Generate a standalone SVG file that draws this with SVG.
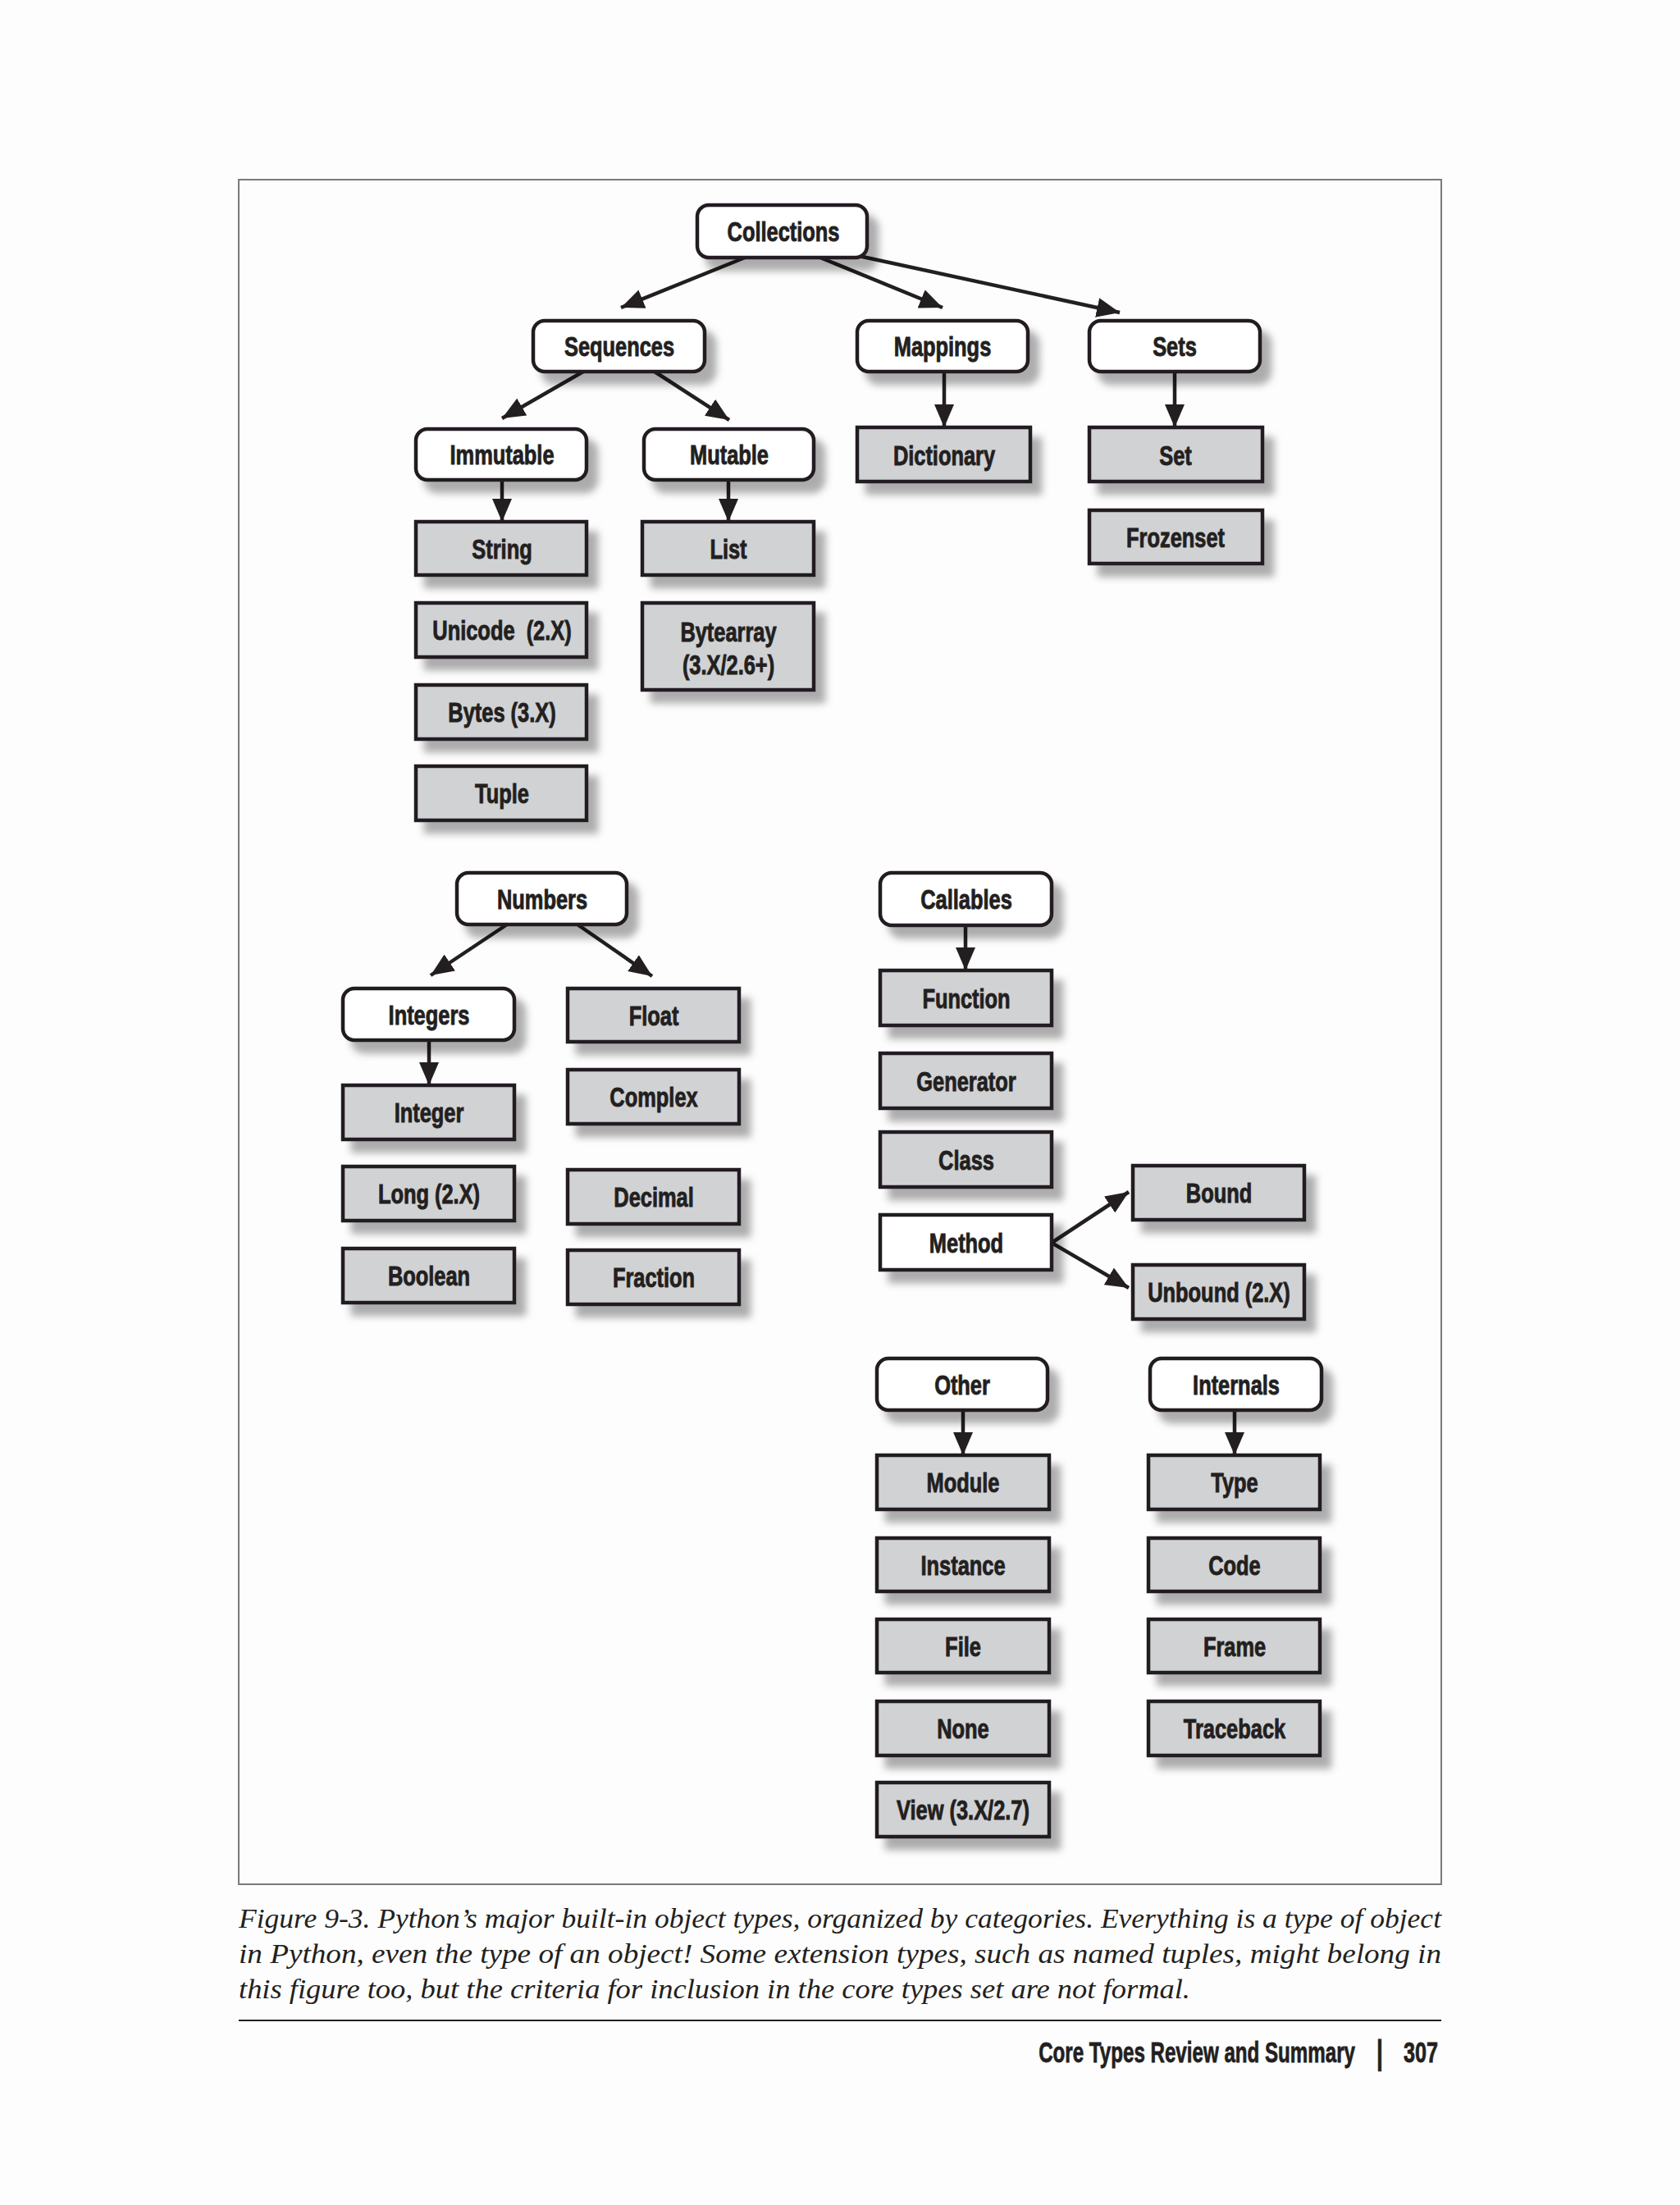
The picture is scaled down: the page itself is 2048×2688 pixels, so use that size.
<svg xmlns="http://www.w3.org/2000/svg" width="2048" height="2688" viewBox="0 0 2048 2688">
<style>
.cat{fill:#fff;stroke:#231f20;stroke-width:4.5}
.box{fill:#d1d2d4;stroke:#231f20;stroke-width:4.5}
.wbox{fill:#fff;stroke:#231f20;stroke-width:4.5}
.lbl{font-family:"Liberation Sans",Arial,sans-serif;font-weight:bold;font-size:33px;fill:#231f20;stroke:#231f20;stroke-width:0.9;text-anchor:middle;white-space:pre}
.con{fill:none;stroke:#231f20;stroke-width:4.5;stroke-linecap:butt}
.cap{font-family:"Liberation Serif","Times New Roman",serif;font-style:italic;font-size:33px;fill:#231f20}
.foot{font-family:"Liberation Sans",Arial,sans-serif;font-weight:bold;font-size:35px;fill:#231f20;stroke:#231f20;stroke-width:0.8}
</style>
<defs>
<filter id="sh" x="-10%" y="-20%" width="130%" height="160%">
<feGaussianBlur in="SourceAlpha" stdDeviation="5"/>
<feOffset dx="12" dy="14" result="b"/>
<feFlood flood-color="#000" flood-opacity="0.32"/>
<feComposite in2="b" operator="in"/>
<feMerge><feMergeNode/><feMergeNode in="SourceGraphic"/></feMerge>
</filter>
<marker id="ah" markerUnits="userSpaceOnUse" markerWidth="30" markerHeight="24" refX="28" refY="12" orient="auto">
<path d="M0,0 L28,12 L0,24 Z" fill="#231f20"/>
</marker>
</defs>
<rect width="2048" height="2688" fill="#fdfdfd"/>
<rect x="291" y="219" width="1466" height="2078" fill="none" stroke="#7a7a7a" stroke-width="2"/>

<g id="connectors">
<path class="con" d="M908,314 L757,375" marker-end="url(#ah)"/>
<path class="con" d="M1000,314 L1149,375" marker-end="url(#ah)"/>
<path class="con" d="M1047,312 L1365,381" marker-end="url(#ah)"/>
<path class="con" d="M711,453 L612,510" marker-end="url(#ah)"/>
<path class="con" d="M798,453 L889,512" marker-end="url(#ah)"/>
<path class="con" d="M1151,453 L1151,521" marker-end="url(#ah)"/>
<path class="con" d="M1432,453 L1432,521" marker-end="url(#ah)"/>
<path class="con" d="M612,585 L612,636" marker-end="url(#ah)"/>
<path class="con" d="M888,585 L888,636" marker-end="url(#ah)"/>
<path class="con" d="M618,1127 L525,1189" marker-end="url(#ah)"/>
<path class="con" d="M704,1127 L795,1190" marker-end="url(#ah)"/>
<path class="con" d="M523,1268 L523,1323" marker-end="url(#ah)"/>
<path class="con" d="M1177,1128 L1177,1183" marker-end="url(#ah)"/>
<path class="con" d="M1282,1515 L1376,1453" marker-end="url(#ah)"/>
<path class="con" d="M1282,1515 L1376,1570" marker-end="url(#ah)"/>
<path class="con" d="M1174,1719 L1174,1774" marker-end="url(#ah)"/>
<path class="con" d="M1505,1719 L1505,1774" marker-end="url(#ah)"/>
</g>

<g id="collections"><rect class="cat" filter="url(#sh)" x="850" y="250" width="207" height="64" rx="14"/><text class="lbl" transform="translate(955,294) scale(0.77,1)">Collections</text></g>
<g id="sequences"><rect class="cat" filter="url(#sh)" x="650" y="391" width="209" height="62" rx="14"/><text class="lbl" transform="translate(755,434) scale(0.77,1)">Sequences</text></g>
<g id="mappings"><rect class="cat" filter="url(#sh)" x="1045" y="391" width="208" height="62" rx="14"/><text class="lbl" transform="translate(1149,434) scale(0.77,1)">Mappings</text></g>
<g id="sets"><rect class="cat" filter="url(#sh)" x="1328" y="391" width="208" height="62" rx="14"/><text class="lbl" transform="translate(1432,434) scale(0.77,1)">Sets</text></g>
<g id="immutable"><rect class="cat" filter="url(#sh)" x="507" y="523" width="208" height="62" rx="14"/><text class="lbl" transform="translate(612,566) scale(0.77,1)">Immutable</text></g>
<g id="mutable"><rect class="cat" filter="url(#sh)" x="785" y="523" width="207" height="62" rx="14"/><text class="lbl" transform="translate(889,566) scale(0.77,1)">Mutable</text></g>
<g id="dictionary"><rect class="box" filter="url(#sh)" x="1045" y="521" width="211" height="66"/><text class="lbl" transform="translate(1151,567) scale(0.77,1)">Dictionary</text></g>
<g id="set"><rect class="box" filter="url(#sh)" x="1328" y="521" width="211" height="66"/><text class="lbl" transform="translate(1433,567) scale(0.77,1)">Set</text></g>
<g id="frozenset"><rect class="box" filter="url(#sh)" x="1328" y="622" width="211" height="65"/><text class="lbl" transform="translate(1433,667) scale(0.77,1)">Frozenset</text></g>
<g id="string"><rect class="box" filter="url(#sh)" x="507" y="636" width="208" height="65"/><text class="lbl" transform="translate(612,681) scale(0.77,1)">String</text></g>
<g id="list"><rect class="box" filter="url(#sh)" x="783" y="636" width="209" height="65"/><text class="lbl" transform="translate(888,681) scale(0.77,1)">List</text></g>
<g id="unicode"><rect class="box" filter="url(#sh)" x="507" y="735" width="208" height="66"/><text class="lbl" transform="translate(612,780) scale(0.77,1)">Unicode  (2.X)</text></g>
<g id="bytearray"><rect class="box" filter="url(#sh)" x="783" y="735" width="209" height="106"/><text class="lbl" transform="translate(888,782) scale(0.77,1)">Bytearray</text><text class="lbl" transform="translate(888,822) scale(0.77,1)">(3.X/2.6+)</text></g>
<g id="bytes"><rect class="box" filter="url(#sh)" x="507" y="835" width="208" height="66"/><text class="lbl" transform="translate(612,880) scale(0.77,1)">Bytes (3.X)</text></g>
<g id="tuple"><rect class="box" filter="url(#sh)" x="507" y="934" width="208" height="66"/><text class="lbl" transform="translate(612,979) scale(0.77,1)">Tuple</text></g>

<g id="numbers"><rect class="cat" filter="url(#sh)" x="557" y="1064" width="207" height="63" rx="14"/><text class="lbl" transform="translate(661,1108) scale(0.77,1)">Numbers</text></g>
<g id="integers"><rect class="cat" filter="url(#sh)" x="418" y="1205" width="209" height="63" rx="14"/><text class="lbl" transform="translate(523,1249) scale(0.77,1)">Integers</text></g>
<g id="float"><rect class="box" filter="url(#sh)" x="692" y="1205" width="209" height="65"/><text class="lbl" transform="translate(797,1250) scale(0.77,1)">Float</text></g>
<g id="integer"><rect class="box" filter="url(#sh)" x="418" y="1323" width="209" height="66"/><text class="lbl" transform="translate(523,1368) scale(0.77,1)">Integer</text></g>
<g id="complex"><rect class="box" filter="url(#sh)" x="692" y="1304" width="209" height="66"/><text class="lbl" transform="translate(797,1349) scale(0.77,1)">Complex</text></g>
<g id="long"><rect class="box" filter="url(#sh)" x="418" y="1422" width="209" height="66"/><text class="lbl" transform="translate(523,1467) scale(0.77,1)">Long (2.X)</text></g>
<g id="decimal"><rect class="box" filter="url(#sh)" x="692" y="1426" width="209" height="66"/><text class="lbl" transform="translate(797,1471) scale(0.77,1)">Decimal</text></g>
<g id="boolean"><rect class="box" filter="url(#sh)" x="418" y="1522" width="209" height="66"/><text class="lbl" transform="translate(523,1567) scale(0.77,1)">Boolean</text></g>
<g id="fraction"><rect class="box" filter="url(#sh)" x="692" y="1524" width="209" height="66"/><text class="lbl" transform="translate(797,1569) scale(0.77,1)">Fraction</text></g>

<g id="callables"><rect class="cat" filter="url(#sh)" x="1073" y="1064" width="209" height="64" rx="14"/><text class="lbl" transform="translate(1178,1108) scale(0.77,1)">Callables</text></g>
<g id="function"><rect class="box" filter="url(#sh)" x="1073" y="1183" width="209" height="67"/><text class="lbl" transform="translate(1178,1229) scale(0.77,1)">Function</text></g>
<g id="generator"><rect class="box" filter="url(#sh)" x="1073" y="1284" width="209" height="67"/><text class="lbl" transform="translate(1178,1330) scale(0.77,1)">Generator</text></g>
<g id="class"><rect class="box" filter="url(#sh)" x="1073" y="1380" width="209" height="67"/><text class="lbl" transform="translate(1178,1426) scale(0.77,1)">Class</text></g>
<g id="method"><rect class="wbox" filter="url(#sh)" x="1073" y="1481" width="209" height="67"/><text class="lbl" transform="translate(1178,1527) scale(0.77,1)">Method</text></g>
<g id="bound"><rect class="box" filter="url(#sh)" x="1381" y="1421" width="209" height="66"/><text class="lbl" transform="translate(1486,1466) scale(0.77,1)">Bound</text></g>
<g id="unbound"><rect class="box" filter="url(#sh)" x="1381" y="1542" width="209" height="66"/><text class="lbl" transform="translate(1486,1587) scale(0.77,1)">Unbound (2.X)</text></g>

<g id="other"><rect class="cat" filter="url(#sh)" x="1069" y="1656" width="208" height="63" rx="14"/><text class="lbl" transform="translate(1173,1700) scale(0.77,1)">Other</text></g>
<g id="internals"><rect class="cat" filter="url(#sh)" x="1402" y="1656" width="209" height="63" rx="14"/><text class="lbl" transform="translate(1507,1700) scale(0.77,1)">Internals</text></g>
<g id="module"><rect class="box" filter="url(#sh)" x="1069" y="1774" width="210" height="66"/><text class="lbl" transform="translate(1174,1819) scale(0.77,1)">Module</text></g>
<g id="type"><rect class="box" filter="url(#sh)" x="1400" y="1774" width="209" height="66"/><text class="lbl" transform="translate(1505,1819) scale(0.77,1)">Type</text></g>
<g id="instance"><rect class="box" filter="url(#sh)" x="1069" y="1875" width="210" height="65"/><text class="lbl" transform="translate(1174,1920) scale(0.77,1)">Instance</text></g>
<g id="code"><rect class="box" filter="url(#sh)" x="1400" y="1875" width="209" height="65"/><text class="lbl" transform="translate(1505,1920) scale(0.77,1)">Code</text></g>
<g id="file"><rect class="box" filter="url(#sh)" x="1069" y="1974" width="210" height="65"/><text class="lbl" transform="translate(1174,2019) scale(0.77,1)">File</text></g>
<g id="frame"><rect class="box" filter="url(#sh)" x="1400" y="1974" width="209" height="65"/><text class="lbl" transform="translate(1505,2019) scale(0.77,1)">Frame</text></g>
<g id="none"><rect class="box" filter="url(#sh)" x="1069" y="2074" width="210" height="66"/><text class="lbl" transform="translate(1174,2119) scale(0.77,1)">None</text></g>
<g id="traceback"><rect class="box" filter="url(#sh)" x="1400" y="2074" width="209" height="66"/><text class="lbl" transform="translate(1505,2119) scale(0.77,1)">Traceback</text></g>
<g id="view"><rect class="box" filter="url(#sh)" x="1069" y="2173" width="210" height="66"/><text class="lbl" transform="translate(1174,2218) scale(0.77,1)">View (3.X/2.7)</text></g>

<g id="caption">
<text class="cap" x="291" y="2350" textLength="1466" lengthAdjust="spacingAndGlyphs">Figure 9-3. Python’s major built-in object types, organized by categories. Everything is a type of object</text>
<text class="cap" x="291" y="2393" textLength="1466" lengthAdjust="spacingAndGlyphs">in Python, even the type of an object! Some extension types, such as named tuples, might belong in</text>
<text class="cap" x="291" y="2436" textLength="1160" lengthAdjust="spacingAndGlyphs">this figure too, but the criteria for inclusion in the core types set are not formal.</text>
</g>
<line x1="291" y1="2463" x2="1757" y2="2463" stroke="#231f20" stroke-width="2"/>
<g id="footer">
<text class="foot" text-anchor="end" transform="translate(1652,2514) scale(0.69,1)">Core Types Review and Summary</text>
<text class="foot" text-anchor="middle" transform="translate(1682,2516) scale(0.8,1.15)">|</text>
<text class="foot" text-anchor="end" transform="translate(1753,2514) scale(0.72,1)">307</text>
</g>
</svg>
